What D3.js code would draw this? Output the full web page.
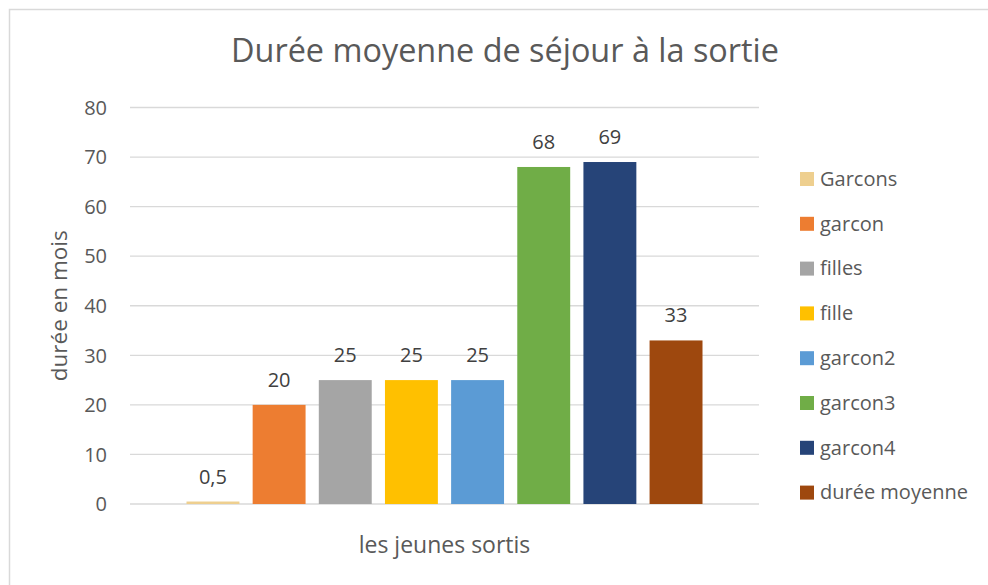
<!DOCTYPE html>
<html>
<head>
<meta charset="utf-8">
<script src="https://cdn.jsdelivr.net/npm/d3@7"></script>
<style>
  body { margin: 0; background: #fff; }
  svg { display: block; font-family: "Open Sans", sans-serif; }
  .gridline { stroke: #d9d9d9; stroke-width: 1.3; }
</style>
</head>
<body>
<div id="chart"></div>
<script>
//data
var seriesNames = ['Garcons', 'garcon', 'filles', 'fille', 'garcon2', 'garcon3', 'garcon4', 'durée moyenne'];
var seriesValues = [0.5, 20, 25, 25, 25, 68, 69, 33];
var seriesColors = ['#eecf8f', '#ed7d31', '#a5a5a5', '#ffc000', '#5b9bd5', '#70ad47', '#264478', '#9e480e'];
var yTicks = [0, 10, 20, 30, 40, 50, 60, 70, 80];
var chartTitle = 'Durée moyenne de séjour à la sortie';
var yTitle = 'durée en mois';
var xTitle = 'les jeunes sortis';
//end data

var width = 988, height = 585;
var textColor = '#595959';

var svg = d3.select('#chart').append('svg')
    .attr('width', width)
    .attr('height', height);

// outer chart border (runs off right and bottom edge)
svg.append('rect')
    .attr('x', 9.5).attr('y', 9.5)
    .attr('width', 1000).attr('height', 1000)
    .attr('fill', '#fff')
    .attr('stroke', '#d9d9d9')
    .attr('stroke-width', 1.5);

var plot = {left: 130, right: 759, top: 107.5, bottom: 504};

var y = d3.scaleLinear()
    .domain([0, 80])
    .range([plot.bottom, plot.top]);

// one category, eight series -> band per series
var x = d3.scaleBand()
    .domain(seriesNames)
    .range([plot.left, plot.right])
    .paddingInner(0.2)
    .paddingOuter(0.854);

var fr = d3.formatLocale({decimal: ',', thousands: ' ', grouping: [3], currency: ['', '€']});
var fmt = function(v){ return fr.format(',')(v); };

// gridlines
svg.append('g').selectAll('line')
    .data(yTicks)
    .enter().append('line')
    .attr('class', 'gridline')
    .attr('x1', plot.left).attr('x2', plot.right)
    .attr('y1', function(d){ return y(d); })
    .attr('y2', function(d){ return y(d); });

// y tick labels
svg.append('g').selectAll('text')
    .data(yTicks)
    .enter().append('text')
    .attr('x', 107)
    .attr('y', function(d){ return y(d); })
    .attr('dy', '0.36em')
    .attr('text-anchor', 'end')
    .attr('fill', textColor)
    .style('font-size', '20px')
    .text(function(d){ return d; });

var data = seriesNames.map(function(n, i){
    return {name: n, value: seriesValues[i], color: seriesColors[i]};
});

// bars
svg.append('g').selectAll('rect')
    .data(data)
    .enter().append('rect')
    .attr('x', function(d){ return x(d.name); })
    .attr('width', x.bandwidth())
    .attr('y', function(d){ return y(d.value); })
    .attr('height', function(d){ return plot.bottom - y(d.value); })
    .attr('fill', function(d){ return d.color; });

// data labels
svg.append('g').selectAll('text')
    .data(data)
    .enter().append('text')
    .attr('x', function(d){ return x(d.name) + x.bandwidth() / 2; })
    .attr('y', function(d){ return y(d.value) - 18; })
    .attr('text-anchor', 'middle')
    .attr('fill', '#404040')
    .style('font-size', '20px')
    .text(function(d){ return fmt(d.value); });

// title
svg.append('text')
    .attr('x', 505)
    .attr('y', 62)
    .attr('text-anchor', 'middle')
    .attr('fill', textColor)
    .style('font-size', '32.4px')
    .text(chartTitle);

// axis titles
svg.append('text')
    .attr('transform', 'translate(67,' + ((plot.top + plot.bottom) / 2) + ') rotate(-90)')
    .attr('text-anchor', 'middle')
    .attr('fill', textColor)
    .style('font-size', '22.5px')
    .text(yTitle);

svg.append('text')
    .attr('x', (plot.left + plot.right) / 2)
    .attr('y', 553)
    .attr('text-anchor', 'middle')
    .attr('fill', textColor)
    .style('font-size', '23px')
    .text(xTitle);

// legend
var legend = svg.append('g').selectAll('g')
    .data(data)
    .enter().append('g')
    .attr('transform', function(d, i){ return 'translate(800,' + (179 + i * 44.8) + ')'; });

legend.append('rect')
    .attr('x', 0).attr('y', -7)
    .attr('width', 14).attr('height', 14)
    .attr('fill', function(d){ return d.color; });

legend.append('text')
    .attr('x', 20)
    .attr('y', 0)
    .attr('dy', '0.34em')
    .attr('fill', textColor)
    .style('font-size', '20px')
    .text(function(d){ return d.name; });
</script>
</body>
</html>
